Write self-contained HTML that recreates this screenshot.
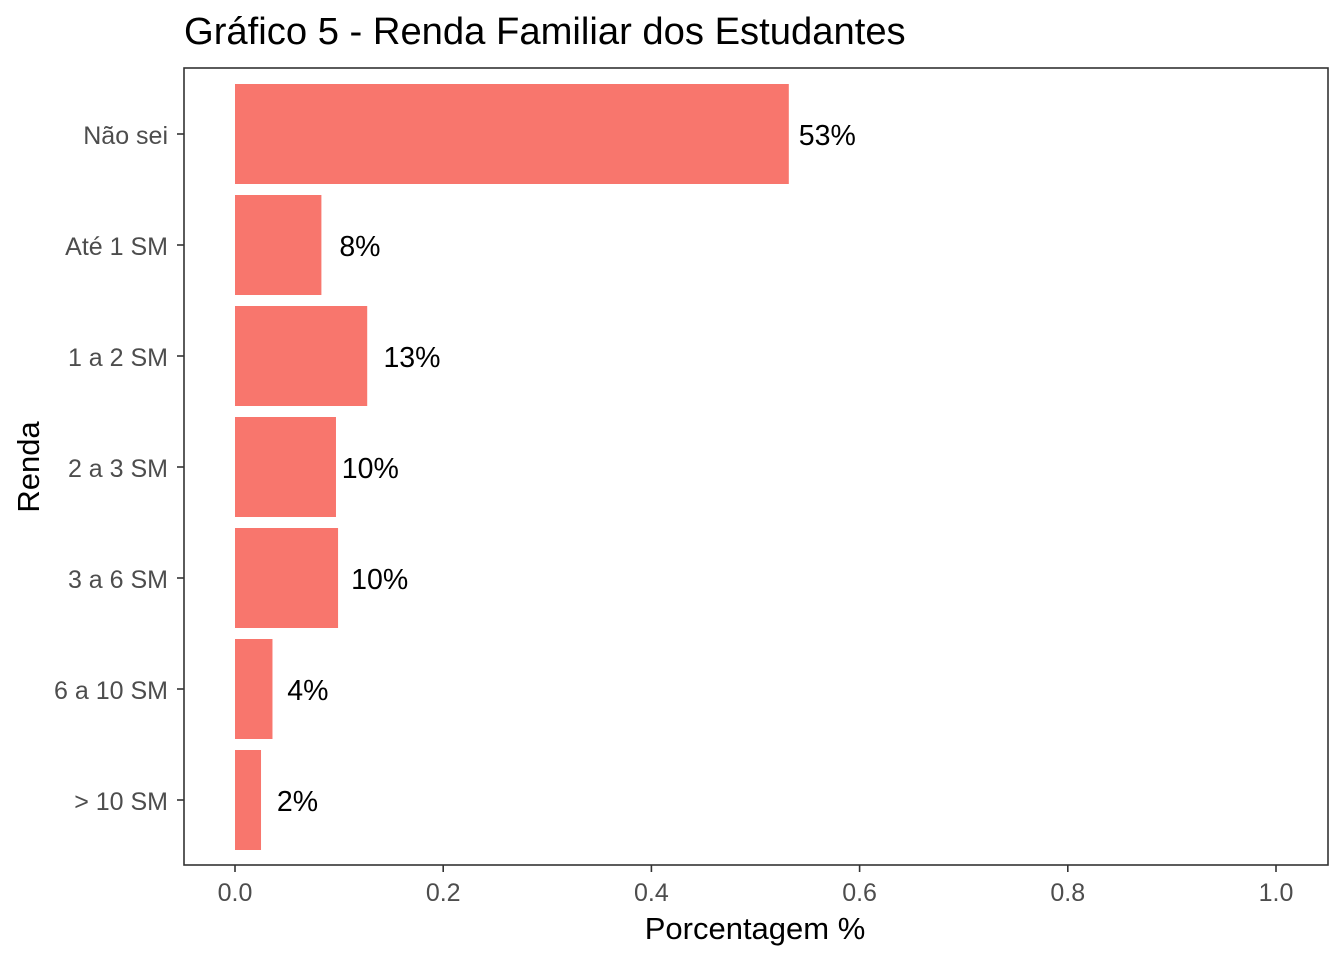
<!DOCTYPE html>
<html><head><meta charset="utf-8"><style>
body{margin:0;background:#fff;}
svg text{font-family:"Liberation Sans",Arial,sans-serif;}
</style></head><body>
<svg id="chart" width="1344" height="960">
<text x="184" y="44" font-size="38.2" fill="#000">Gráfico 5 - Renda Familiar dos Estudantes</text>
<rect x="184" y="68" width="1144" height="797" fill="#fff" stroke="#333" stroke-width="1.6"/>
<g id="bars"></g><g id="yaxis"></g><g id="xaxis"></g>
<text x="755" y="939" font-size="31" text-anchor="middle">Porcentagem %</text>
<text transform="translate(39,467) rotate(-90)" font-size="31" text-anchor="middle">Renda</text>
</svg>
<script>
const categories=["Não sei","Até 1 SM","1 a 2 SM","2 a 3 SM","3 a 6 SM","6 a 10 SM","> 10 SM"];
const values=[0.532,0.083,0.127,0.097,0.099,0.036,0.025];
const labels=["53%","8%","13%","10%","10%","4%","2%"];
const labelOffsets=[0.037,0.037,0.043,0.033,0.040,0.034,0.035];
const xTicks=[0,0.2,0.4,0.6,0.8,1.0];
const xTickLabels=["0.0","0.2","0.4","0.6","0.8","1.0"];
const NS="http://www.w3.org/2000/svg";
const x=v=>235+v*1041;
const y=i=>134+i*111;
const bh=100;
function mk(t,a,p){const e=document.createElementNS(NS,t);for(const k in a)e.setAttribute(k,a[k]);p.appendChild(e);return e;}
const gb=document.getElementById('bars'),gy=document.getElementById('yaxis'),gx=document.getElementById('xaxis');
categories.forEach((c,i)=>{
  const r=mk('rect',{x:x(0),y:y(i)-bh/2,width:x(values[i])-x(0),height:bh,fill:'#F8766D'},gb);
  
  
  const t=mk('text',{x:x(values[i]+labelOffsets[i]),y:y(i)+11,'font-size':28.5,'text-anchor':'middle',fill:'#000'},gb);
  t.textContent=labels[i];
  
  
  const tk=mk('line',{x1:177,x2:184,y1:y(i),y2:y(i),stroke:'#333','stroke-width':1.6},gy);
  
  
  const tl=mk('text',{x:168,y:y(i)+10,'font-size':25,'text-anchor':'end',fill:'#4d4d4d'},gy);
  tl.textContent=c;
  
  
});
xTicks.forEach((v,i)=>{
  const tk=mk('line',{x1:x(v),x2:x(v),y1:865,y2:872,stroke:'#333','stroke-width':1.6},gx);
  
  
  const tl=mk('text',{x:x(v),y:901,'font-size':25,'text-anchor':'middle',fill:'#4d4d4d'},gx);
  tl.textContent=xTickLabels[i];
  
  
});
</script>
</body></html>
